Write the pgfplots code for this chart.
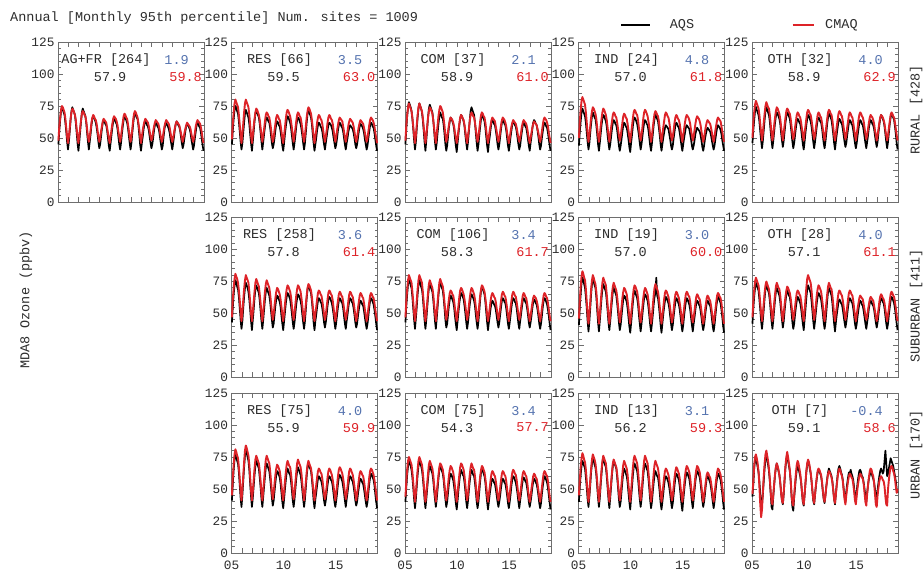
\documentclass[border=0pt]{standalone}
\usepackage{pgfplots}
\pgfplotsset{compat=1.18}
\usepackage{fontspec}
\setmainfont{Liberation Mono}
\definecolor{cmaqred}{RGB}{221,35,40}
\definecolor{numblue}{RGB}{85,115,175}
\definecolor{axisgray}{RGB}{110,110,110}
\definecolor{labgray}{RGB}{45,45,45}
\newcommand\txtsz{\fontsize{13.5}{16}\selectfont}
\newcommand\ticksz{\fontsize{12.8}{15}\selectfont}
\pgfplotsset{
 panel/.style={
  scale only axis, width=146pt, height=160pt,
  xmin=5, xmax=19, ymin=0, ymax=125,
  xtick={5,...,19}, xticklabels={},
  ytick={0,25,50,75,100,125}, yticklabels={0,25,50,75,100,125},
  minor y tick num=4,
  tick align=inside, tick pos=both, ticklabel pos=left,
  major tick length=5pt, minor tick length=3pt,
  axis line style={draw=axisgray, line width=0.9pt},
  tick style={draw=axisgray, line width=0.8pt},
  ticklabel style={font=\ticksz, text=labgray},
  xticklabel style={yshift=-4.5pt},
  clip=false,
 },
 bottomrow/.style={xticklabels={05,,,,,10,,,,,15,,,,}},
 aqsline/.style={black, line width=1.7pt, line join=round},
 cmaqline/.style={cmaqred, line width=1.9pt, line join=round},
}
\newcommand{\aqs}[1]{\addplot[aqsline] table[row sep=\\,header=false,x expr=5+\coordindex/12+1/24,y index=0]{#1};}
\newcommand{\cmaq}[1]{\addplot[cmaqline] table[row sep=\\,header=false,x expr=5+\coordindex/12+1/24,y index=0]{#1};}
\newcommand{\annot}[4]{%
 \node[text=labgray,inner sep=0pt] at (axis cs:9.6,111) {#1};
 \node[text=numblue,anchor=east,inner sep=0pt] at (axis cs:17.56,111) {#2};
 \node[text=labgray,inner sep=0pt] at (axis cs:10.0,98) {#3};
 \node[text=cmaqred,anchor=east,inner sep=0pt] at (axis cs:18.81,98) {#4};}
\begin{document}
\begin{tikzpicture}[font=\txtsz]
\useasboundingbox (0,0) rectangle (923pt,573pt);
\node[anchor=west,text=labgray,inner sep=0pt] at (10pt,555pt) {Annual [Monthly 95th percentile] Num. sites = 1009};
\node[rotate=90,text=labgray,inner sep=0pt] at (26pt,273pt) {MDA8 Ozone (ppbv)};
\node[rotate=90,text=labgray,inner sep=0pt] at (916pt,463pt) {RURAL [428]};
\node[rotate=90,text=labgray,inner sep=0pt] at (916pt,267pt) {SUBURBAN [411]};
\node[rotate=90,text=labgray,inner sep=0pt] at (916pt,118pt) {URBAN [170]};

% ---------------- ROW 1 RURAL ----------------
\begin{axis}[panel, at={(58pt,531pt)}, anchor=north west]
\aqs{45\\56\\64\\71\\74\\72\\70\\68\\62\\55\\47\\41\\
47\\55\\64\\71\\74\\72\\70\\68\\62\\54\\46\\40\\
47\\55\\63\\70\\73\\71\\69\\67\\62\\54\\47\\41\\
47\\53\\60\\65\\67\\66\\64\\62\\58\\53\\47\\42\\
45\\51\\57\\62\\64\\63\\61\\60\\56\\50\\44\\40\\
46\\52\\58\\63\\65\\64\\62\\61\\57\\51\\45\\41\\
46\\53\\59\\64\\67\\66\\64\\62\\58\\52\\46\\41\\
46\\54\\61\\67\\70\\68\\66\\65\\60\\53\\45\\40\\
46\\51\\57\\61\\63\\62\\60\\59\\56\\51\\46\\42\\
45\\50\\56\\60\\62\\61\\59\\58\\55\\50\\45\\41\\
44\\51\\57\\61\\62\\60\\59\\57\\54\\49\\45\\41\\
46\\51\\57\\61\\63\\62\\60\\59\\56\\51\\46\\42\\
45\\50\\55\\59\\61\\60\\59\\57\\54\\49\\45\\41\\
44\\50\\55\\60\\62\\61\\59\\58\\54\\49\\44\\40\\}
\cmaq{48\\59\\66\\72\\75\\74\\72\\70\\65\\58\\51\\46\\
51\\58\\65\\70\\73\\72\\70\\68\\64\\57\\51\\46\\
52\\58\\64\\69\\71\\70\\68\\67\\63\\57\\51\\47\\
51\\56\\62\\66\\68\\67\\65\\64\\61\\56\\51\\47\\
50\\55\\59\\63\\65\\64\\63\\62\\58\\54\\49\\46\\
51\\56\\61\\65\\67\\66\\65\\63\\60\\55\\51\\47\\
51\\57\\62\\67\\69\\68\\66\\65\\61\\56\\51\\47\\
51\\57\\64\\69\\71\\70\\68\\66\\62\\57\\51\\46\\
51\\56\\60\\63\\65\\64\\63\\62\\59\\55\\51\\48\\
50\\55\\59\\62\\64\\63\\62\\61\\58\\54\\50\\47\\
50\\55\\59\\62\\64\\63\\62\\61\\58\\54\\50\\47\\
50\\54\\58\\61\\63\\62\\61\\60\\57\\54\\50\\47\\
50\\54\\57\\60\\62\\61\\60\\59\\57\\53\\50\\47\\
50\\54\\59\\62\\64\\63\\62\\61\\58\\54\\49\\46\\}
\annot{AG+FR [264]}{1.9}{57.9}{59.8}
\end{axis}

\begin{axis}[panel, at={(231.5pt,531pt)}, anchor=north west]
\aqs{45\\56\\65\\72\\75\\73\\71\\69\\63\\55\\47\\41\\
46\\54\\62\\69\\72\\70\\68\\66\\61\\53\\46\\40\\
47\\55\\63\\69\\72\\70\\68\\66\\61\\54\\47\\41\\
47\\53\\59\\64\\66\\65\\63\\62\\58\\52\\46\\42\\
45\\50\\56\\61\\63\\62\\60\\59\\55\\50\\44\\40\\
46\\53\\59\\64\\67\\66\\64\\62\\58\\52\\46\\41\\
46\\52\\59\\64\\66\\65\\63\\61\\57\\52\\46\\41\\
46\\54\\62\\69\\72\\70\\68\\66\\61\\53\\46\\40\\
45\\50\\56\\60\\62\\61\\59\\58\\55\\50\\45\\41\\
46\\51\\56\\60\\62\\61\\60\\58\\55\\50\\46\\42\\
45\\50\\56\\60\\62\\61\\59\\58\\55\\50\\45\\41\\
46\\50\\55\\58\\60\\59\\58\\57\\54\\50\\45\\42\\
45\\50\\55\\59\\61\\60\\59\\57\\54\\49\\45\\41\\
44\\50\\55\\60\\62\\61\\59\\58\\54\\49\\44\\40\\}
\cmaq{49\\61\\70\\77\\80\\78\\76\\74\\68\\60\\52\\46\\
53\\61\\70\\77\\80\\78\\76\\74\\68\\60\\52\\46\\
52\\59\\65\\70\\73\\72\\70\\68\\64\\58\\52\\47\\
52\\57\\63\\68\\70\\69\\67\\66\\62\\57\\51\\47\\
50\\56\\61\\66\\68\\67\\65\\64\\60\\55\\50\\46\\
52\\58\\65\\70\\72\\71\\69\\67\\63\\58\\52\\47\\
52\\57\\63\\68\\70\\69\\67\\66\\62\\57\\51\\47\\
52\\59\\66\\71\\74\\73\\71\\69\\64\\58\\51\\46\\
51\\56\\62\\66\\68\\67\\65\\64\\61\\56\\51\\47\\
51\\56\\62\\66\\68\\67\\65\\64\\61\\56\\51\\47\\
51\\56\\60\\64\\66\\65\\64\\63\\59\\55\\50\\47\\
51\\55\\60\\63\\65\\64\\63\\62\\59\\55\\50\\47\\
50\\55\\59\\62\\64\\63\\62\\61\\58\\54\\50\\47\\
50\\55\\60\\64\\66\\65\\64\\62\\59\\54\\50\\46\\}
\annot{RES [66]}{3.5}{59.5}{63.0}
\end{axis}

\begin{axis}[panel, at={(405pt,531pt)}, anchor=north west]
\aqs{45\\58\\67\\74\\78\\76\\74\\71\\65\\57\\48\\41\\
47\\57\\66\\73\\77\\75\\73\\70\\64\\56\\47\\40\\
48\\57\\66\\73\\76\\74\\72\\70\\64\\56\\47\\41\\
46\\54\\61\\67\\70\\68\\66\\65\\60\\53\\45\\40\\
44\\51\\58\\63\\66\\65\\63\\61\\57\\50\\44\\39\\
46\\53\\60\\65\\68\\67\\65\\63\\59\\52\\46\\41\\
47\\55\\64\\71\\74\\72\\70\\68\\62\\54\\46\\40\\
45\\52\\59\\65\\68\\67\\65\\63\\58\\51\\44\\39\\
46\\51\\57\\62\\64\\63\\61\\60\\56\\51\\45\\41\\
45\\51\\57\\62\\64\\63\\61\\60\\56\\50\\44\\40\\
45\\51\\56\\61\\63\\62\\60\\59\\55\\50\\45\\41\\
44\\50\\55\\60\\62\\61\\59\\58\\54\\49\\44\\40\\
46\\51\\57\\62\\64\\63\\61\\60\\56\\51\\45\\41\\
44\\50\\55\\60\\62\\61\\59\\58\\54\\49\\44\\40\\}
\cmaq{48\\60\\68\\74\\77\\75\\73\\71\\66\\59\\52\\46\\
52\\60\\68\\74\\77\\75\\73\\71\\66\\59\\52\\46\\
52\\59\\66\\71\\74\\73\\71\\69\\64\\58\\51\\46\\
53\\60\\67\\72\\75\\74\\72\\70\\65\\59\\52\\47\\
50\\55\\60\\64\\66\\65\\64\\62\\59\\54\\50\\46\\
50\\56\\61\\66\\68\\67\\65\\64\\60\\55\\50\\46\\
52\\57\\63\\68\\70\\69\\67\\66\\62\\57\\51\\47\\
51\\57\\63\\68\\70\\69\\67\\66\\62\\56\\50\\46\\
51\\56\\60\\64\\66\\65\\64\\63\\59\\55\\50\\47\\
50\\55\\60\\64\\66\\65\\64\\62\\59\\54\\50\\46\\
50\\55\\59\\62\\64\\63\\62\\61\\58\\54\\50\\47\\
50\\54\\59\\62\\64\\63\\62\\61\\58\\54\\49\\46\\
50\\54\\58\\61\\63\\62\\61\\60\\57\\54\\50\\47\\
50\\55\\60\\64\\66\\65\\64\\62\\59\\54\\50\\46\\}
\annot{COM [37]}{2.1}{58.9}{61.0}
\end{axis}

\begin{axis}[panel, at={(578.5pt,531pt)}, anchor=north west,
  legend style={at={(0.289,1.106)}, anchor=west, draw=none, fill=none, inner sep=0pt, outer sep=0pt,
    font=\txtsz, legend columns=2, nodes={inner sep=0pt, text=labgray},
    /tikz/column 1/.append style={column sep=19pt},
    /tikz/column 2/.append style={column sep=98pt},
    /tikz/column 3/.append style={column sep=11pt}}]
\addlegendimage{legend image code/.code={\draw[black, line width=1.1pt] (0pt,0pt) -- (29pt,0pt);}}
\addlegendentry{AQS}
\addlegendimage{legend image code/.code={\draw[cmaqred, line width=1.1pt] (0pt,0pt) -- (21pt,0pt);}}
\addlegendentry{CMAQ}
\aqs{44\\55\\63\\70\\73\\71\\69\\67\\62\\54\\47\\41\\
46\\54\\61\\67\\70\\68\\66\\65\\60\\53\\45\\40\\
46\\53\\60\\65\\68\\67\\65\\63\\59\\52\\46\\41\\
45\\51\\57\\62\\64\\63\\61\\60\\56\\50\\44\\40\\
44\\49\\55\\60\\62\\61\\59\\58\\54\\49\\43\\39\\
46\\52\\59\\64\\66\\65\\63\\61\\57\\52\\46\\41\\
45\\51\\57\\62\\64\\63\\61\\60\\56\\50\\44\\40\\
46\\53\\60\\65\\68\\67\\65\\63\\58\\52\\45\\40\\
45\\50\\54\\58\\60\\59\\58\\57\\53\\49\\44\\41\\
44\\50\\55\\60\\62\\61\\59\\58\\54\\49\\44\\40\\
45\\50\\54\\58\\60\\59\\58\\57\\53\\49\\44\\41\\
44\\48\\53\\56\\58\\57\\56\\55\\52\\48\\43\\40\\
44\\49\\53\\56\\58\\57\\56\\55\\52\\48\\44\\41\\
44\\49\\54\\58\\60\\59\\58\\56\\53\\48\\44\\40\\}
\cmaq{50\\63\\72\\79\\82\\80\\78\\76\\70\\62\\53\\47\\
52\\59\\66\\71\\74\\73\\71\\69\\65\\58\\52\\47\\
52\\59\\65\\70\\73\\72\\70\\68\\64\\58\\52\\47\\
52\\58\\63\\68\\70\\69\\67\\66\\62\\57\\52\\48\\
51\\57\\62\\67\\69\\68\\66\\65\\61\\56\\51\\47\\
53\\59\\65\\70\\72\\71\\69\\68\\64\\58\\52\\48\\
52\\58\\65\\70\\72\\71\\69\\67\\63\\58\\52\\47\\
52\\58\\64\\69\\71\\70\\68\\67\\63\\57\\51\\47\\
52\\58\\63\\68\\70\\69\\67\\66\\62\\57\\52\\48\\
51\\56\\62\\66\\68\\67\\65\\64\\61\\56\\51\\47\\
52\\57\\62\\66\\68\\67\\66\\64\\61\\56\\52\\48\\
51\\56\\61\\65\\67\\66\\65\\63\\60\\55\\51\\47\\
50\\55\\59\\62\\64\\63\\62\\61\\58\\54\\50\\47\\
51\\56\\60\\64\\66\\65\\64\\63\\59\\55\\50\\47\\}
\annot{IND [24]}{4.8}{57.0}{61.8}
\end{axis}

\begin{axis}[panel, at={(752pt,531pt)}, anchor=north west]
\aqs{46\\56\\64\\71\\74\\72\\70\\68\\63\\55\\48\\42\\
48\\56\\64\\71\\74\\72\\70\\68\\63\\55\\48\\42\\
48\\55\\62\\67\\70\\69\\67\\65\\61\\54\\48\\43\\
48\\55\\62\\67\\70\\69\\67\\65\\60\\54\\47\\42\\
46\\52\\58\\63\\65\\64\\62\\61\\57\\51\\45\\41\\
47\\54\\60\\65\\68\\67\\65\\63\\59\\53\\47\\42\\
47\\53\\59\\64\\66\\65\\63\\62\\58\\52\\46\\42\\
47\\54\\61\\66\\69\\68\\66\\64\\59\\53\\46\\41\\
47\\53\\58\\63\\65\\64\\62\\61\\57\\52\\47\\43\\
46\\52\\57\\62\\64\\63\\61\\60\\56\\51\\46\\42\\
46\\52\\57\\62\\64\\63\\61\\60\\56\\51\\46\\42\\
47\\52\\58\\62\\64\\63\\61\\60\\57\\52\\47\\43\\
47\\54\\60\\65\\68\\67\\65\\63\\59\\53\\47\\42\\
47\\54\\61\\66\\69\\68\\66\\64\\59\\53\\46\\41\\}
\cmaq{50\\62\\70\\76\\79\\77\\75\\73\\68\\61\\54\\48\\
54\\62\\69\\75\\78\\76\\74\\73\\68\\61\\53\\48\\
53\\60\\66\\71\\74\\73\\71\\69\\65\\59\\53\\48\\
54\\60\\66\\71\\73\\72\\70\\69\\65\\59\\53\\49\\
52\\58\\63\\68\\70\\69\\67\\66\\62\\57\\52\\48\\
54\\59\\65\\70\\72\\71\\69\\68\\64\\59\\53\\49\\
52\\58\\63\\68\\70\\69\\67\\66\\62\\57\\52\\48\\
53\\59\\65\\70\\72\\71\\69\\68\\64\\58\\52\\48\\
53\\59\\64\\69\\71\\70\\68\\67\\63\\58\\53\\49\\
52\\58\\63\\68\\70\\69\\67\\66\\62\\57\\52\\48\\
53\\58\\64\\68\\70\\69\\67\\66\\63\\58\\53\\49\\
52\\57\\62\\66\\68\\67\\66\\64\\61\\56\\52\\48\\
52\\57\\62\\66\\68\\67\\66\\64\\61\\56\\52\\48\\
52\\58\\63\\68\\70\\69\\67\\66\\62\\57\\52\\48\\}
\annot{OTH [32]}{4.0}{58.9}{62.9}
\end{axis}

% ---------------- ROW 2 SUBURBAN ----------------
\begin{axis}[panel, at={(231.5pt,355.5pt)}, anchor=north west]
\aqs{43\\55\\65\\72\\76\\74\\71\\69\\63\\54\\45\\38\\
44\\54\\63\\70\\74\\72\\70\\67\\61\\53\\44\\37\\
45\\53\\62\\69\\72\\70\\68\\66\\60\\52\\44\\38\\
45\\53\\61\\67\\70\\68\\66\\64\\59\\52\\45\\39\\
42\\49\\56\\61\\64\\63\\61\\59\\55\\48\\42\\37\\
44\\51\\58\\63\\66\\65\\63\\61\\56\\50\\43\\38\\
43\\50\\57\\62\\65\\64\\62\\60\\56\\49\\43\\38\\
44\\53\\62\\69\\72\\70\\68\\66\\60\\52\\43\\37\\
44\\49\\55\\60\\62\\61\\59\\58\\54\\49\\43\\39\\
43\\49\\56\\61\\63\\62\\60\\58\\54\\49\\43\\38\\
43\\49\\55\\60\\62\\61\\59\\58\\54\\48\\42\\38\\
44\\49\\55\\60\\62\\61\\59\\58\\54\\49\\43\\39\\
42\\48\\53\\58\\60\\59\\57\\56\\52\\47\\42\\38\\
42\\48\\55\\60\\62\\61\\59\\57\\53\\48\\42\\37\\}
\cmaq{47\\61\\70\\77\\81\\79\\77\\74\\68\\60\\51\\44\\
51\\60\\69\\76\\80\\78\\76\\74\\67\\59\\50\\44\\
51\\59\\67\\74\\77\\75\\73\\71\\65\\58\\50\\44\\
51\\59\\67\\73\\76\\74\\72\\70\\65\\58\\51\\45\\
49\\56\\62\\67\\70\\69\\67\\65\\61\\55\\49\\44\\
50\\57\\64\\69\\72\\71\\69\\67\\63\\56\\50\\45\\
50\\57\\64\\69\\72\\71\\69\\67\\62\\56\\49\\44\\
50\\57\\64\\70\\73\\72\\70\\68\\63\\56\\49\\44\\
50\\55\\61\\66\\68\\67\\65\\64\\60\\55\\49\\45\\
49\\55\\61\\66\\68\\67\\65\\64\\60\\54\\48\\44\\
49\\55\\60\\65\\67\\66\\64\\63\\59\\54\\49\\45\\
49\\54\\60\\65\\67\\66\\64\\63\\59\\54\\48\\44\\
48\\54\\59\\64\\66\\65\\63\\62\\58\\53\\48\\44\\
48\\54\\59\\64\\66\\65\\63\\62\\58\\53\\48\\44\\}
\annot{RES [258]}{3.6}{57.8}{61.4}
\end{axis}

\begin{axis}[panel, at={(405pt,355.5pt)}, anchor=north west]
\aqs{43\\56\\65\\73\\77\\75\\72\\70\\63\\54\\45\\38\\
46\\55\\65\\72\\76\\74\\71\\69\\63\\54\\45\\38\\
45\\54\\63\\70\\73\\71\\69\\67\\61\\53\\44\\38\\
46\\55\\64\\71\\74\\72\\70\\68\\62\\54\\45\\39\\
42\\49\\56\\61\\64\\63\\61\\59\\55\\48\\42\\37\\
44\\51\\58\\63\\66\\65\\63\\61\\56\\50\\43\\38\\
43\\50\\57\\62\\65\\64\\62\\60\\56\\49\\43\\38\\
44\\52\\61\\68\\71\\69\\67\\65\\59\\51\\43\\37\\
43\\48\\54\\58\\60\\59\\57\\56\\53\\48\\43\\39\\
43\\49\\55\\60\\62\\61\\59\\58\\54\\48\\42\\38\\
43\\49\\55\\60\\62\\61\\59\\58\\54\\48\\42\\38\\
44\\49\\55\\60\\62\\61\\59\\58\\54\\49\\43\\39\\
43\\48\\54\\59\\61\\60\\58\\57\\53\\48\\42\\38\\
42\\48\\55\\60\\62\\61\\59\\57\\53\\48\\42\\37\\}
\cmaq{47\\60\\69\\76\\80\\78\\76\\74\\67\\59\\50\\44\\
51\\60\\69\\76\\80\\78\\76\\74\\67\\59\\50\\44\\
50\\58\\66\\73\\76\\74\\72\\70\\65\\57\\50\\44\\
51\\59\\67\\74\\77\\75\\73\\71\\66\\58\\51\\45\\
49\\55\\61\\66\\68\\67\\65\\64\\60\\54\\48\\44\\
50\\56\\63\\68\\70\\69\\67\\65\\61\\56\\50\\45\\
49\\56\\62\\67\\70\\69\\67\\65\\61\\55\\49\\44\\
50\\57\\64\\69\\72\\71\\69\\67\\62\\56\\49\\44\\
49\\54\\60\\64\\66\\65\\63\\62\\59\\54\\49\\45\\
49\\54\\60\\65\\67\\66\\64\\63\\59\\54\\48\\44\\
49\\55\\60\\65\\67\\66\\64\\63\\59\\54\\49\\45\\
48\\54\\59\\64\\66\\65\\63\\62\\58\\53\\48\\44\\
48\\53\\58\\62\\64\\63\\62\\60\\57\\52\\48\\44\\
48\\54\\59\\64\\66\\65\\63\\62\\58\\53\\48\\44\\}
\annot{COM [106]}{3.4}{58.3}{61.7}
\end{axis}

\begin{axis}[panel, at={(578.5pt,355.5pt)}, anchor=north west]
\aqs{41\\55\\65\\74\\78\\76\\73\\70\\63\\54\\44\\36\\
44\\54\\65\\73\\77\\75\\72\\70\\63\\53\\43\\36\\
44\\53\\62\\69\\73\\71\\69\\67\\60\\52\\43\\37\\
44\\52\\60\\67\\70\\68\\66\\64\\58\\51\\43\\37\\
41\\48\\55\\61\\64\\63\\61\\59\\54\\47\\40\\35\\
42\\50\\58\\65\\68\\66\\64\\62\\57\\49\\42\\36\\
42\\49\\56\\62\\65\\64\\62\\60\\55\\48\\41\\36\\
42\\49\\57\\63\\66\\78\\64\\62\\56\\49\\41\\35\\
42\\49\\55\\60\\63\\62\\60\\58\\54\\48\\42\\37\\
41\\48\\54\\59\\62\\61\\59\\57\\53\\47\\41\\36\\
41\\48\\54\\59\\62\\61\\59\\57\\53\\47\\41\\36\\
42\\47\\53\\58\\60\\59\\57\\56\\52\\47\\41\\37\\
41\\47\\53\\58\\60\\59\\57\\56\\52\\46\\40\\36\\
41\\48\\55\\60\\63\\62\\60\\58\\53\\47\\40\\35\\}
\cmaq{46\\60\\71\\79\\83\\81\\78\\76\\69\\59\\49\\42\\
50\\59\\69\\76\\80\\78\\75\\73\\67\\58\\49\\42\\
49\\58\\67\\74\\78\\76\\74\\72\\65\\57\\48\\42\\
49\\57\\65\\71\\74\\72\\70\\68\\63\\56\\49\\43\\
48\\55\\62\\67\\70\\69\\67\\65\\60\\54\\47\\42\\
49\\56\\63\\69\\72\\71\\69\\67\\62\\55\\48\\43\\
48\\55\\62\\67\\70\\69\\67\\65\\60\\54\\47\\42\\
48\\56\\64\\70\\73\\71\\69\\67\\62\\55\\48\\42\\
48\\54\\61\\66\\68\\67\\65\\63\\59\\54\\48\\43\\
47\\53\\60\\65\\67\\66\\64\\62\\58\\53\\47\\42\\
48\\54\\60\\65\\67\\66\\64\\63\\59\\53\\47\\43\\
47\\52\\58\\63\\65\\64\\62\\61\\57\\52\\46\\42\\
46\\52\\57\\62\\64\\63\\61\\60\\56\\51\\46\\42\\
47\\53\\59\\64\\66\\65\\63\\62\\58\\52\\46\\42\\}
\annot{IND [19]}{3.0}{57.0}{60.0}
\end{axis}

\begin{axis}[panel, at={(752pt,355.5pt)}, anchor=north west]
\aqs{42\\54\\63\\70\\74\\72\\70\\68\\61\\53\\44\\38\\
45\\53\\62\\69\\72\\70\\68\\66\\60\\52\\44\\38\\
45\\53\\61\\67\\70\\68\\66\\64\\59\\52\\45\\39\\
44\\52\\59\\65\\68\\66\\64\\63\\58\\51\\43\\38\\
42\\49\\55\\60\\63\\62\\60\\58\\54\\48\\42\\37\\
45\\53\\62\\69\\72\\70\\68\\66\\60\\52\\44\\38\\
44\\51\\58\\63\\66\\65\\63\\61\\56\\50\\43\\38\\
43\\51\\60\\67\\70\\68\\66\\64\\58\\50\\42\\36\\
43\\49\\54\\59\\61\\60\\58\\57\\53\\48\\43\\39\\
43\\49\\55\\60\\62\\61\\59\\58\\54\\48\\42\\38\\
42\\48\\53\\58\\60\\59\\57\\56\\52\\47\\42\\38\\
43\\48\\54\\58\\60\\59\\57\\56\\53\\48\\43\\39\\
43\\49\\55\\60\\62\\61\\59\\58\\54\\48\\42\\38\\
42\\49\\55\\60\\63\\62\\60\\58\\54\\48\\42\\37\\}
\cmaq{47\\59\\68\\75\\78\\76\\74\\72\\66\\58\\50\\44\\
50\\58\\66\\72\\75\\73\\71\\69\\64\\57\\50\\44\\
50\\58\\65\\71\\74\\72\\70\\69\\64\\57\\49\\44\\
50\\57\\63\\68\\71\\70\\68\\66\\62\\56\\50\\45\\
49\\55\\61\\66\\68\\67\\65\\64\\60\\54\\48\\44\\
52\\61\\70\\77\\80\\78\\76\\74\\68\\60\\51\\45\\
50\\57\\64\\69\\72\\71\\69\\67\\62\\56\\49\\44\\
50\\58\\65\\71\\74\\72\\70\\69\\64\\57\\49\\44\\
50\\55\\61\\66\\68\\67\\65\\64\\60\\55\\49\\45\\
49\\55\\61\\66\\68\\67\\65\\64\\60\\54\\48\\44\\
49\\54\\58\\62\\64\\63\\62\\61\\57\\53\\48\\45\\
48\\53\\57\\61\\63\\62\\61\\60\\56\\52\\47\\44\\
48\\53\\59\\63\\65\\64\\62\\61\\58\\53\\48\\44\\
49\\54\\60\\65\\67\\66\\64\\63\\59\\54\\48\\44\\}
\annot{OTH [28]}{4.0}{57.1}{61.1}
\end{axis}

% ---------------- ROW 3 URBAN ----------------
\begin{axis}[panel, bottomrow, at={(231.5pt,180pt)}, anchor=north west]
\aqs{41\\54\\65\\73\\77\\75\\72\\70\\63\\53\\43\\36\\
45\\56\\67\\76\\80\\78\\75\\72\\65\\54\\44\\36\\
43\\52\\61\\68\\72\\70\\68\\66\\59\\51\\42\\36\\
44\\52\\60\\67\\70\\68\\66\\64\\58\\51\\43\\37\\
41\\48\\55\\61\\64\\63\\61\\59\\54\\47\\40\\35\\
42\\50\\57\\63\\66\\64\\62\\61\\56\\49\\41\\36\\
42\\50\\58\\64\\67\\65\\63\\61\\56\\49\\42\\36\\
42\\51\\60\\67\\70\\68\\66\\64\\58\\50\\41\\35\\
42\\47\\53\\58\\60\\59\\57\\56\\52\\47\\41\\37\\
41\\47\\53\\58\\60\\59\\57\\56\\52\\46\\40\\36\\
41\\47\\54\\59\\61\\60\\58\\56\\52\\47\\41\\36\\
42\\47\\53\\58\\60\\59\\57\\56\\52\\47\\41\\37\\
40\\46\\51\\56\\58\\57\\55\\54\\50\\45\\40\\36\\
40\\47\\54\\59\\62\\61\\59\\57\\53\\46\\40\\35\\}
\cmaq{45\\59\\69\\77\\81\\79\\76\\74\\67\\58\\48\\41\\
50\\60\\71\\80\\84\\82\\79\\76\\69\\59\\49\\41\\
48\\57\\66\\73\\76\\74\\72\\70\\64\\56\\47\\41\\
49\\57\\66\\73\\76\\74\\72\\70\\64\\56\\48\\42\\
47\\54\\61\\66\\69\\68\\66\\64\\59\\53\\46\\41\\
48\\56\\63\\69\\72\\70\\68\\67\\62\\55\\47\\42\\
47\\55\\63\\70\\73\\71\\69\\67\\62\\54\\47\\41\\
47\\55\\63\\69\\72\\70\\68\\66\\61\\54\\47\\41\\
47\\53\\59\\64\\66\\65\\63\\62\\58\\52\\46\\42\\
46\\52\\59\\64\\66\\65\\63\\61\\57\\52\\46\\41\\
47\\53\\60\\65\\67\\66\\64\\62\\58\\53\\47\\42\\
46\\52\\59\\64\\66\\65\\63\\61\\57\\52\\46\\41\\
46\\51\\57\\62\\64\\63\\61\\60\\56\\51\\45\\41\\
46\\52\\59\\64\\66\\65\\63\\61\\57\\52\\46\\41\\}
\annot{RES [75]}{4.0}{55.9}{59.9}
\end{axis}

\begin{axis}[panel, bottomrow, at={(405pt,180pt)}, anchor=north west]
\aqs{40\\52\\61\\68\\72\\70\\68\\65\\59\\51\\42\\35\\
42\\52\\61\\68\\72\\70\\68\\65\\59\\51\\42\\35\\
42\\50\\58\\65\\68\\66\\64\\62\\57\\49\\42\\36\\
42\\50\\58\\65\\68\\66\\64\\62\\57\\49\\42\\36\\
40\\47\\54\\59\\62\\61\\59\\57\\52\\46\\39\\34\\
41\\49\\56\\62\\65\\63\\61\\60\\55\\48\\40\\35\\
41\\49\\56\\62\\65\\63\\61\\60\\55\\48\\40\\35\\
40\\48\\56\\63\\66\\64\\62\\60\\55\\47\\40\\34\\
40\\46\\51\\56\\58\\57\\55\\54\\50\\45\\40\\36\\
40\\45\\51\\56\\58\\57\\55\\54\\50\\45\\39\\35\\
40\\46\\53\\58\\60\\59\\57\\55\\51\\46\\40\\35\\
41\\46\\52\\57\\59\\58\\56\\55\\51\\46\\40\\36\\
40\\45\\51\\56\\58\\57\\55\\54\\50\\45\\39\\35\\
39\\46\\52\\57\\60\\59\\57\\55\\51\\45\\39\\34\\}
\cmaq{44\\56\\65\\72\\75\\73\\71\\69\\63\\55\\46\\40\\
47\\56\\65\\72\\75\\73\\71\\69\\63\\55\\46\\40\\
46\\54\\62\\69\\72\\70\\68\\66\\61\\53\\46\\40\\
47\\54\\61\\67\\70\\69\\67\\65\\60\\53\\46\\41\\
46\\53\\60\\65\\68\\67\\65\\63\\58\\52\\45\\40\\
47\\54\\61\\67\\70\\69\\67\\65\\60\\53\\46\\41\\
46\\54\\61\\67\\70\\68\\66\\65\\60\\53\\45\\40\\
46\\53\\60\\65\\68\\67\\65\\63\\58\\52\\45\\40\\
46\\51\\57\\62\\64\\63\\61\\60\\56\\51\\45\\41\\
45\\51\\57\\62\\64\\63\\61\\60\\56\\50\\44\\40\\
46\\52\\58\\63\\65\\64\\62\\61\\57\\51\\45\\41\\
45\\51\\57\\62\\64\\63\\61\\60\\56\\50\\44\\40\\
44\\50\\55\\60\\62\\61\\59\\58\\54\\49\\44\\40\\
45\\51\\57\\62\\64\\63\\61\\60\\56\\50\\44\\40\\}
\annot{COM [75]}{3.4}{54.3}{57.7}
\end{axis}

\begin{axis}[panel, bottomrow, at={(578.5pt,180pt)}, anchor=north west]
\aqs{40\\52\\61\\68\\72\\70\\68\\66\\59\\51\\42\\36\\
44\\53\\63\\70\\74\\72\\69\\67\\61\\52\\43\\36\\
43\\53\\62\\70\\74\\72\\69\\67\\60\\51\\42\\35\\
43\\52\\61\\68\\72\\70\\68\\66\\59\\51\\42\\36\\
40\\48\\56\\63\\66\\64\\62\\60\\55\\47\\40\\34\\
43\\51\\60\\67\\70\\68\\66\\64\\58\\50\\42\\36\\
42\\51\\60\\67\\70\\68\\66\\64\\58\\50\\41\\35\\
40\\48\\55\\61\\64\\62\\60\\59\\54\\47\\39\\34\\
40\\46\\53\\58\\60\\59\\57\\55\\51\\46\\40\\35\\
39\\46\\53\\59\\62\\61\\59\\57\\52\\45\\38\\33\\
41\\48\\55\\60\\63\\62\\60\\58\\53\\47\\40\\35\\
42\\49\\56\\61\\64\\63\\61\\59\\54\\48\\41\\36\\
40\\46\\53\\58\\60\\59\\57\\55\\51\\46\\40\\35\\
40\\47\\54\\59\\62\\61\\59\\57\\52\\46\\39\\34\\}
\cmaq{45\\57\\67\\74\\78\\76\\73\\71\\65\\56\\47\\40\\
47\\57\\66\\73\\77\\75\\73\\70\\64\\56\\47\\40\\
47\\56\\65\\72\\76\\74\\72\\70\\63\\55\\46\\40\\
47\\55\\63\\70\\73\\71\\69\\67\\62\\54\\47\\41\\
46\\54\\62\\69\\72\\70\\68\\66\\61\\53\\46\\40\\
48\\57\\66\\73\\76\\74\\72\\70\\64\\56\\47\\41\\
47\\56\\65\\72\\76\\74\\72\\70\\63\\55\\46\\40\\
46\\54\\62\\69\\72\\70\\68\\66\\61\\53\\46\\40\\
46\\52\\59\\64\\66\\65\\63\\61\\57\\52\\46\\41\\
45\\52\\59\\64\\67\\66\\64\\62\\58\\51\\45\\40\\
46\\53\\60\\65\\68\\67\\65\\63\\59\\52\\46\\41\\
46\\53\\60\\65\\68\\67\\65\\63\\58\\52\\45\\40\\
45\\50\\56\\61\\63\\62\\60\\59\\55\\50\\44\\40\\
45\\52\\58\\63\\66\\65\\63\\61\\57\\51\\45\\40\\}
\annot{IND [13]}{3.1}{56.2}{59.3}
\end{axis}

\begin{axis}[panel, bottomrow, at={(752pt,180pt)}, anchor=north west]
\aqs{44\\54\\66\\73\\74\\71\\67\\63\\56\\46\\40\\38\\
46\\56\\66\\73\\76\\73\\69\\64\\56\\46\\36\\34\\
44\\53\\61\\67\\70\\67\\64\\61\\55\\47\\41\\38\\
46\\57\\67\\73\\76\\72\\68\\64\\56\\44\\36\\33\\
43\\51\\59\\65\\68\\66\\63\\60\\55\\47\\40\\37\\
45\\54\\63\\69\\72\\70\\66\\62\\56\\48\\41\\38\\
45\\52\\58\\63\\65\\64\\62\\60\\55\\48\\42\\39\\
45\\52\\58\\63\\66\\64\\62\\60\\56\\49\\42\\38\\
46\\54\\61\\66\\68\\66\\63\\61\\57\\50\\44\\40\\
48\\54\\59\\63\\62\\65\\62\\60\\57\\51\\45\\41\\
48\\55\\60\\64\\65\\63\\60\\59\\55\\50\\44\\40\\
47\\53\\58\\61\\62\\63\\60\\58\\55\\50\\45\\43\\
49\\55\\60\\64\\66\\64\\62\\64\\72\\80\\70\\60\\
62\\66\\70\\74\\72\\70\\68\\64\\60\\56\\50\\47\\}
\cmaq{46\\56\\68\\75\\77\\74\\70\\64\\52\\38\\28\\34\\
48\\60\\70\\77\\80\\76\\72\\66\\58\\48\\40\\38\\
46\\54\\62\\67\\70\\68\\65\\61\\55\\47\\41\\39\\
48\\58\\68\\75\\79\\75\\70\\65\\57\\46\\39\\37\\
45\\54\\62\\69\\72\\70\\66\\62\\56\\48\\41\\38\\
46\\55\\64\\70\\73\\71\\67\\63\\57\\49\\42\\39\\
46\\53\\59\\64\\66\\65\\63\\61\\56\\49\\43\\40\\
45\\52\\57\\62\\64\\63\\61\\59\\55\\49\\42\\39\\
46\\53\\59\\64\\66\\65\\62\\60\\56\\49\\42\\38\\
45\\51\\56\\60\\62\\61\\59\\58\\54\\48\\41\\38\\
45\\51\\56\\60\\62\\61\\59\\58\\54\\47\\40\\37\\
46\\53\\59\\64\\66\\65\\62\\60\\55\\46\\38\\36\\
45\\51\\56\\59\\60\\59\\57\\56\\52\\44\\38\\37\\
50\\57\\63\\67\\68\\67\\64\\62\\58\\52\\47\\50\\}
\annot{OTH [7]}{-0.4}{59.1}{58.6}
\end{axis}
\end{tikzpicture}
\end{document}
